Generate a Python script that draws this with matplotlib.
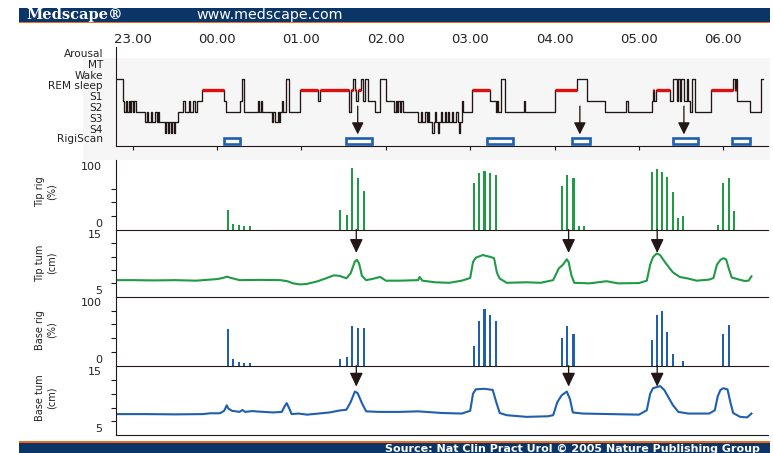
import numpy as np
import matplotlib
matplotlib.use("Agg")
import matplotlib.pyplot as plt
from matplotlib.patches import Rectangle, FancyArrowPatch
from matplotlib.transforms import ScaledTranslation, blended_transform_factory

# ---------------- data (time = minutes after 23:00) ----------------
hour_ticks = [0, 60, 120, 180, 240, 300, 360, 420]
hour_labels = ["23.00", "00.00", "01.00", "02.00", "03.00", "04.00", "05.00", "06.00"]

stage_labels = ["Arousal", "MT", "Wake", "REM sleep", "S1", "S2", "S3", "S4", "RigiScan"]
stage_levels = [8, 7, 6, 5, 4, 3, 2, 1, 0.29]
stage_codes = {"W": 6, "R": 5, "1": 4, "2": 3, "3": 2, "4": 1}

hyp_start = -12      # first scored epoch, minutes after 23:00
hyp_epoch = 1        # epoch length in minutes
# run-length coded hypnogram: (epoch pattern, repeats)
hyp_runs = [
    ("W", 5), ("1", 1), ("2", 1), ("12", 4), ("2", 6), ("323323323233", 1), ("3", 2),
    ("4343434", 1), ("3", 2), ("2", 4), ("12221221221", 1), ("1", 2),
    ("R", 16), ("1", 1), ("2", 10), ("1", 2), ("W", 1), ("2", 10), ("1212", 1), ("2", 6),
    ("3233232", 1), ("122", 1), ("W", 2), ("2", 8),
    ("R", 13), ("1", 1), ("R", 21), ("2", 1), ("R", 2), ("W", 1), ("R", 1), ("1", 1), ("R", 2),
    ("WW1WW", 1), ("1", 5), ("2", 4), ("W", 4), ("1", 6), ("212121", 1), ("2", 11),
    ("3323323233432343233232332332343", 1), ("1", 1), ("2", 6), ("R", 13), ("1", 4),
    ("2122", 1), ("W", 3), ("2", 13), ("1", 1), ("2", 21),
    ("R", 16), ("W", 7), ("1", 13), ("2", 15), ("1", 1), ("2", 17), ("1R1", 1), ("R", 10),
    ("11WWW1W1WW11W122WW2", 1), ("2", 10), ("R", 16), ("WRW", 1), ("1", 9), ("2", 8), ("W", 1),
]

rigiscan_start = [65, 152, 252, 312.5, 384, 426]
rigiscan_end = [76, 170.5, 270.5, 325, 402, 439]

rig_times = [67.6, 71.5, 75.6, 79.2, 83.2,
             147.4, 152.2, 156.2, 160.4, 164.5,
             242.9, 246.1, 250.1, 254.1, 258.2,
             305.1, 309.1, 313.4, 317.2, 321.2,
             369.1, 372.7, 376.4, 380.2, 384.5, 387.6, 391.6,
             416.1, 420.0, 424.1, 427.6]
tip_rig = [36, 11, 9, 6, 6,
           36, 27, 112, 94, 71,
           86, 104, 108, 104, 100,
           79, 100, 94, 6, 6,
           106, 111, 105, 97, 68, 22, 25,
           8, 85, 94, 34]
base_rig = [66, 13, 7, 5.5, 5.5,
            12, 15, 72, 68, 69,
            36, 82, 104, 92, 82,
            51, 72, 58, 0, 0,
            47, 93, 100, 62, 21, 0, 8.5,
            0, 58, 74, 0]

tip_tum_t = [-12, 0, 15, 30, 45, 55, 60, 64, 67, 70,
             76, 90, 105, 110, 114, 119, 124, 131, 137, 143,
             147, 152, 155, 158, 159.5, 161, 163, 166, 170, 176,
             180, 190, 203, 204, 206, 215, 225, 234, 240, 242,
             244, 249, 255, 257, 259, 261, 266, 280, 290, 299,
             303, 306, 308.7, 310, 312, 314, 325, 337, 345, 360,
             365.6, 368, 370, 372.7, 375, 379, 384, 389, 395, 401,
             410, 413, 415.5, 418, 420, 422, 424, 426, 430, 435,
             438, 440]
tip_tum = [8.1, 8.1, 8.05, 8.1, 8.0, 8.2, 8.3, 8.5, 8.75, 8.5,
           8.1, 8.15, 8.1, 7.9, 7.5, 7.3, 7.4, 7.85, 8.4, 9.0,
           8.9, 8.45, 9.4, 11.6, 11.9, 11.2, 8.9, 8.1, 8.3, 8.7,
           8.0, 8.0, 8.1, 8.7, 8.0, 7.7, 7.6, 8.0, 8.5, 11.5,
           12.3, 12.8, 12.4, 12.2, 9.5, 8.4, 7.6, 7.7, 7.6, 8.1,
           10.3, 11.0, 12.0, 11.5, 9.0, 7.6, 7.5, 7.9, 7.5, 7.55,
           8.0, 11.0, 12.4, 13.1, 12.8, 11.3, 9.6, 8.7, 8.4, 8.0,
           8.2, 8.5, 11.0, 11.9, 12.2, 12.0, 10.2, 8.6, 8.3, 7.95,
           8.0, 8.8]

base_tum_t = [-12, 10, 30, 50, 55, 62, 65, 66.9, 68, 70.6,
              76, 78, 80, 85, 90, 100, 106, 108, 109.5, 111,
              113, 118, 124, 130, 140, 147, 152, 155, 158, 160,
              163, 166, 175, 190, 203, 220, 234, 240, 242, 244,
              250, 256, 258.5, 261, 266, 280, 295, 299, 302, 305,
              308.7, 311, 313, 320, 340, 360, 365.6, 368, 370, 375,
              378, 384, 388, 395, 410, 414, 416, 418, 420, 423,
              425, 427, 432, 437, 440]
base_tum = [8.8, 8.8, 8.75, 8.8, 8.95, 8.95, 9.4, 10.4, 9.8, 9.4,
            9.2, 9.55, 9.2, 9.35, 9.25, 9.1, 9.2, 10.2, 10.8, 10.0,
            8.8, 8.9, 8.7, 8.85, 9.1, 9.45, 9.6, 11.0, 12.9, 12.6,
            10.8, 9.3, 9.2, 9.2, 9.3, 9.0, 8.9, 9.4, 12.5, 13.3,
            13.4, 13.2, 11.0, 9.0, 8.6, 8.3, 8.4, 8.6, 11.0, 12.2,
            12.9, 11.5, 9.1, 8.9, 8.8, 8.7, 9.5, 12.5, 13.5, 13.9,
            13.2, 10.5, 9.2, 8.9, 8.9, 9.5, 12.0, 13.2, 13.5, 13.3,
            11.0, 9.0, 8.3, 8.2, 8.9]

hyp_arrow_t = [160, 318, 392]
tum_arrow_t = [159, 310, 373]

# ---------------- styling ----------------
INK = "#221616"
TXT = "#222222"
RED = "#dd1010"
GREEN = "#1f9a45"
BLUE = "#1f5fae"
NAVY = "#0b3566"
ORANGE = "#f06a1e"

W, H = 773, 453
fig = plt.figure(figsize=(W / 100, H / 100), dpi=100)
fig.patch.set_facecolor("white")


def px_axes(left, top, right, bottom):
    return fig.add_axes([left / W, 1 - bottom / H, (right - left) / W, (bottom - top) / H])


def fig_rect(x0, y0, x1, y1, color, z=-1):
    fig.add_artist(Rectangle((x0 / W, 1 - y1 / H), (x1 - x0) / W, (y1 - y0) / H,
                             transform=fig.transFigure, facecolor=color,
                             edgecolor="none", zorder=z))


def px_offset(dx, dy):
    return ScaledTranslation(dx / 100, dy / 100, fig.dpi_scale_trans)


# page furniture
fig_rect(19, 8.3, 770, 21.7, NAVY)
fig_rect(19, 21.7, 770, 23.3, ORANGE)
fig_rect(19, 441, 770, 442.8, ORANGE)
fig_rect(19, 442.8, 770, 453, NAVY)
fig_rect(83, 58, 770, 160, "#f6f6f6", z=-2)
fig.text(26 / W, 1 - 15.3 / H, "Medscape®", color="white", family="DejaVu Serif",
         fontsize=10.5, fontweight="bold", ha="left", va="center")
fig.text(270 / W, 1 - 15.5 / H, "www.medscape.com", color="white", fontsize=10.3,
         ha="center", va="center")
fig.text(760 / W, 1 - 443.6 / H, "Source: Nat Clin Pract Urol © 2005 Nature Publishing Group",
         color="white", fontsize=8, fontweight="bold", ha="right", va="top")

XL = (-11.9, 451.8)
ax_h = px_axes(116, 47, 768, 146)
ax_tr = px_axes(116, 160, 768, 229.5)
ax_tt = px_axes(116, 229.5, 768, 296.7)
ax_br = px_axes(116, 296.7, 768, 365.7)
ax_bt = px_axes(116, 365.7, 768, 435)

for ax in (ax_h, ax_tr, ax_tt, ax_br, ax_bt):
    ax.set_xlim(XL)
    ax.patch.set_alpha(0)
    for s in ("top", "right"):
        ax.spines[s].set_visible(False)
    for s in ("left", "bottom"):
        ax.spines[s].set_color(INK)
        ax.spines[s].set_linewidth(0.8)
    ax.tick_params(axis="x", which="both", bottom=False, labelbottom=False)

# ---------------- hypnogram ----------------
ax_h.set_ylim(-0.17, 8.95)
ax_h.set_yticks([])
ax_h.set_xticks(hour_ticks, hour_labels)
ax_h.tick_params(axis="x", bottom=True, top=False, labelbottom=False, labeltop=True,
                 direction="out", length=3, width=0.8, color=INK, labelsize=9.5,
                 labelcolor=TXT, pad=-2.4)

for name, lvl in zip(stage_labels, stage_levels):
    lift = 1.8 if name == "RigiScan" else 3.5
    lab_tr = blended_transform_factory(ax_h.transAxes, ax_h.transData) + px_offset(-13, lift)
    ax_h.text(0, lvl, name, transform=lab_tr, ha="right", va="center",
              fontsize=7.6, color=TXT)

hypnogram = "".join(p * n for p, n in hyp_runs)
levels = np.array([stage_codes[c] for c in hypnogram])
t_edges = hyp_start + hyp_epoch * np.arange(len(levels) + 1)
ax_h.step(t_edges, np.append(levels, levels[-1]), where="post", color=INK, lw=0.95)

in_rem = np.r_[0, (levels == stage_codes["R"]).astype(int), 0]
edges = np.flatnonzero(np.diff(in_rem))
rem_on, rem_off = t_edges[edges[::2]], t_edges[edges[1::2]]
ax_h.hlines(np.full(len(rem_on), stage_codes["R"]), rem_on, rem_off,
            color=RED, lw=2.4, zorder=3)

for s, e in zip(rigiscan_start, rigiscan_end):
    ax_h.add_patch(Rectangle((s, stage_levels[-1] - 0.267), e - s, 0.534,
                             facecolor="white", edgecolor=BLUE, lw=1.9, zorder=3))

for t in hyp_arrow_t:
    ax_h.add_patch(FancyArrowPatch((t, 3.5), (t, 0.9),
                                   arrowstyle="-|>,head_length=0.72,head_width=0.36",
                                   mutation_scale=10, lw=0.95, color=INK,
                                   shrinkA=0, shrinkB=0, zorder=4))

# ---------------- rigidity / tumescence panels ----------------
def value_axis(ax, ylim, ticks, lo_lab, hi_lab):
    ax.set_ylim(*ylim)
    ax.set_yticks(ticks)
    ax.tick_params(axis="y", direction="out", length=3.6, width=0.8, color=INK,
                   labelleft=False)
    tr = blended_transform_factory(ax.transAxes, ax.transData)
    ax.text(0, lo_lab[0], lo_lab[1], transform=tr + px_offset(-14, 5.5),
            ha="right", va="center", fontsize=8, color=TXT)
    ax.text(0, hi_lab[0], hi_lab[1], transform=tr + px_offset(-14, 8),
            ha="right", va="center", fontsize=8, color=TXT)


value_axis(ax_tr, (0, 127.5), [25, 50, 75], (0, "0"), (100, "100"))
value_axis(ax_tt, (5, 17.58), [7.5, 10, 12.5, 15], (5, "5"), (15, "15"))
value_axis(ax_br, (0, 125.5), [25, 50, 75, 100], (0, "0"), (100, "100"))
value_axis(ax_bt, (5, 17.6), [7.5, 10, 12.5, 15], (5, "5"), (15, "15"))

ax_tr.bar(rig_times, tip_rig, width=1.6, color=GREEN)
ax_br.bar(rig_times, base_rig, width=1.6, color=BLUE)
ax_tt.plot(tip_tum_t, tip_tum, color=GREEN, lw=1.5)
ax_bt.plot(base_tum_t, base_tum, color=BLUE, lw=1.5)

for ax, tip in ((ax_tt, 13.2), (ax_bt, 13.8)):
    top = ax.get_ylim()[1]
    for t in tum_arrow_t:
        ax.add_patch(FancyArrowPatch((t, top), (t, tip),
                                     arrowstyle="-|>,head_length=0.84,head_width=0.4",
                                     mutation_scale=10, lw=0.95, color=INK,
                                     shrinkA=0, shrinkB=0, zorder=4, clip_on=False))

for y, txt in ((192, "Tip rig\n(%)"), (263, "Tip tum\n(cm)"),
               (330, "Base rig\n(%)"), (398, "Base tum\n(cm)")):
    fig.text(46 / W, 1 - y / H, txt, rotation=90, ha="center", va="center",
             fontsize=7, color=TXT, linespacing=1.15, multialignment="center")

fig.savefig("out.png", dpi=100)
